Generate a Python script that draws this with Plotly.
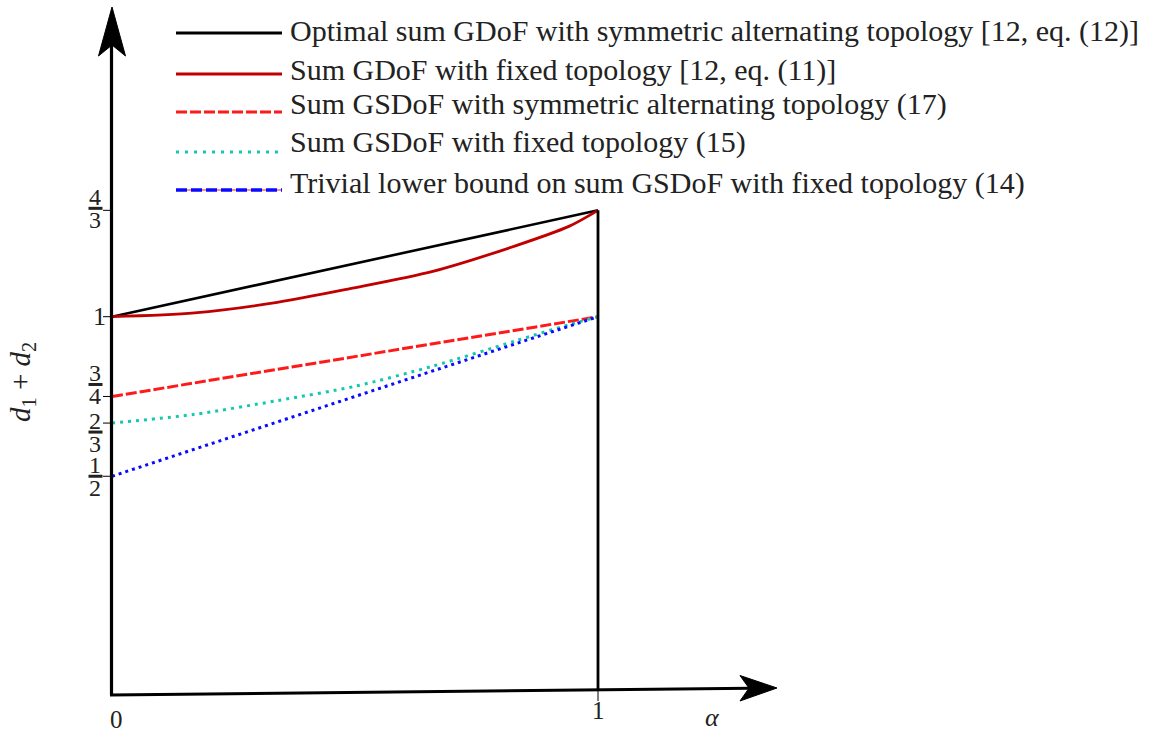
import plotly.graph_objects as go

# ---------------- data ----------------
alpha_lin = [0, 1]
opt_sym_alt_gdof = [1, 4/3]                       # black solid
alpha_fixed_gdof = [0, 0.17, 0.34, 0.49, 0.66, 0.83, 0.94, 1]
fixed_gdof = [1, 1.012, 1.045, 1.088, 1.142, 1.222, 1.283, 4/3]   # dark red solid
sym_alt_gsdof = [3/4, 1]                           # red dashed
alpha_fixed_gsdof = [0, 0.17, 0.34, 0.5, 0.66, 0.83, 0.94, 1]
fixed_gsdof = [2/3, 0.694, 0.737, 0.782, 0.845, 0.924, 0.975, 1]  # cyan dotted
trivial_lb = [1/2, 1]                              # blue dotted

y_tick_vals = [4/3, 1, 3/4, 2/3, 1/2]
legend_labels = [
    "Optimal sum GDoF with symmetric alternating topology [12, eq. (12)]",
    "Sum GDoF with fixed topology [12, eq. (11)]",
    "Sum GSDoF with symmetric alternating topology (17)",
    "Sum GSDoF with fixed topology (15)",
    "Trivial lower bound on sum GSDoF with fixed topology (14)",
]

# ---------------- layout constants ----------------
W, H = 1159, 735
X0, XS = 112.0, 486.0        # pixel of alpha=0, pixels per unit
Y0, YS = 635.8, 319.1        # pixel of value 0, pixels per unit

def py(v):
    return Y0 - YS * v

def PX(x):
    return x / W

def PY(y):
    return 1 - y / H

BLACK = "#000000"
DARKRED = "#c00000"
RED = "#ff1a1a"
CYAN = "#14c8b0"
BLUE = "#0a0aff"
FONT = "Liberation Serif"
TXT = "#222222"

fig = go.Figure()

fig.add_trace(go.Scatter(x=alpha_lin, y=opt_sym_alt_gdof, mode="lines",
                         line=dict(color=BLACK, width=2.6), name=legend_labels[0]))
fig.add_trace(go.Scatter(x=alpha_fixed_gdof, y=fixed_gdof, mode="lines",
                         line=dict(color=DARKRED, width=2.8, shape="spline", smoothing=0.8),
                         name=legend_labels[1]))
fig.add_trace(go.Scatter(x=alpha_lin, y=sym_alt_gsdof, mode="lines",
                         line=dict(color=RED, width=3, dash="11px,3px"), name=legend_labels[2]))
fig.add_trace(go.Scatter(x=alpha_fixed_gsdof, y=fixed_gsdof, mode="lines",
                         line=dict(color=CYAN, width=3, dash="3px,5px", shape="spline", smoothing=0.8),
                         name=legend_labels[3]))
fig.add_trace(go.Scatter(x=alpha_lin, y=trivial_lb, mode="lines",
                         line=dict(color=BLUE, width=3, dash="3px,4px"), name=legend_labels[4]))

shapes = []
annots = []

def line(x0, y0, x1, y1, color=BLACK, width=3, dash=None, xref="paper", yref="paper"):
    d = dict(type="line", x0=x0, y0=y0, x1=x1, y1=y1, xref=xref, yref=yref,
             line=dict(color=color, width=width), layer="above")
    if dash:
        d["line"]["dash"] = dash
    shapes.append(d)

def poly(pts, color=BLACK):
    path = "M " + " L ".join(f"{PX(x):.5f},{PY(y):.5f}" for x, y in pts) + " Z"
    shapes.append(dict(type="path", path=path, xref="paper", yref="paper",
                       fillcolor=color, line=dict(color=color, width=1), layer="above"))

# y axis with arrow
line(PX(111.5), PY(695), PX(111.5), PY(40), width=3.2)
poly([(112, 7), (125.5, 56), (112, 45), (98.5, 56)])
# x axis with arrow (slightly slanted as in the drawing)
line(PX(110), PY(695), PX(750), PY(688.3), width=3)
poly([(777, 688), (740, 701), (749, 688.2), (740, 675.5)])
# vertical line at alpha = 1
line(1, 4/3, 1, (Y0 - 691) / YS, width=2.8, xref="x", yref="y")
# tick under alpha = 1
line(PX(598), PY(691), PX(598), PY(701), width=1)

# y ticks
for v in y_tick_vals:
    line(PX(103), v, PX(111), v, width=1, yref="y")

def txt(x, y, s, size, xref="paper", yref="paper", xanchor="center", yanchor="middle",
        yshift=0, xshift=0, angle=0, color=TXT):
    annots.append(dict(x=x, y=y, xref=xref, yref=yref, text=s, showarrow=False,
                       xanchor=xanchor, yanchor=yanchor, yshift=yshift, xshift=xshift,
                       textangle=angle, borderpad=0,
                       font=dict(family=FONT, size=size, color=color)))

def frac(v, num, den, bar_off, xc=95.5, fs=24):
    # bar_off: vertical pixel offset of the fraction bar relative to tick (positive = down)
    yb = (Y0 - (py(v) + bar_off)) / YS
    shapes.append(dict(type="line", xref="paper", yref="y", x0=PX(xc - 7), x1=PX(xc + 7),
                       y0=yb, y1=yb, line=dict(color=TXT, width=3), layer="above"))
    txt(PX(xc), yb, num, fs, yref="y", yanchor="bottom", yshift=-3)
    txt(PX(xc), yb, den, fs, yref="y", yanchor="top", yshift=2)

frac(4/3, "4", "3", -2)
txt(PX(99), 1, "1", 26, yref="y")
frac(3/4, "3", "4", -12)
frac(2/3, "2", "3", 9)
frac(1/2, "1", "2", 0)

# x tick labels and axis label
txt(0, PY(719), "0", 25, xref="x", xshift=4)
txt(1, PY(710), "1", 25, xref="x")
txt(PX(712), PY(717), "<i>α</i>", 26)
# y label
txt(PX(22), PY(382), "<i>d</i><sub>1</sub> + <i>d</i><sub>2</sub>", 29, angle=-90)

# manual legend
leg_line_y = [33, 74, 112, 152, 190]
leg_text_y = [31, 70, 104, 142, 183]
styles = [
    dict(color=BLACK, width=3),
    dict(color=DARKRED, width=3),
    dict(color=RED, width=3.2, dash="11px,3px"),
    dict(color=CYAN, width=3, dash="3px,6px"),
    dict(color=BLUE, width=3.6, dash="11px,4px"),
]
for i, lab in enumerate(legend_labels):
    yl = PY(leg_line_y[i])
    if i == 4:
        line(PX(176), yl, PX(282), yl, color=RED, width=1.2)
    st = styles[i]
    line(PX(176), yl, PX(282), yl, color=st["color"], width=st["width"], dash=st.get("dash"))
    txt(PX(289), PY(leg_text_y[i]), lab, 30, xanchor="left")

fig.update_layout(
    width=W, height=H,
    margin=dict(l=0, r=0, t=0, b=0),
    paper_bgcolor="white", plot_bgcolor="white",
    showlegend=False,
    xaxis=dict(range=[-X0 / XS, (W - X0) / XS], visible=False, fixedrange=True),
    yaxis=dict(range=[(Y0 - H) / YS, Y0 / YS], visible=False, fixedrange=True),
    shapes=shapes, annotations=annots,
)

fig.write_html("out.html", config={"displayModeBar": False},
               post_script="document.body.style.margin='0px';")
